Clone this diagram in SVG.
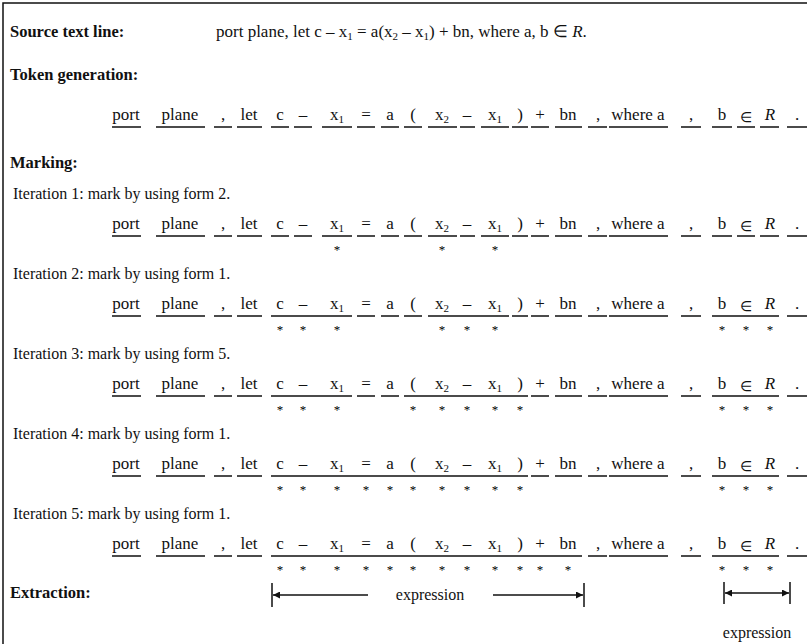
<svg xmlns="http://www.w3.org/2000/svg" width="807" height="644" viewBox="0 0 807 644">
<style>
text{font-family:"Liberation Serif","Times New Roman",serif;font-size:16px;fill:#111}
.h{font-weight:bold;font-size:16.5px}
.src{font-size:17px}
.row text{text-anchor:middle;font-size:17px}
.row text.el{font-size:14px}
.sb{font-size:11px}
.it{font-style:italic}
.row .st text{font-size:13px;fill:#000}
.ul{stroke:#111;stroke-width:1.6;fill:none}
.ln{stroke:#111;stroke-width:1.5;fill:none}
</style>
<defs>
<marker id="ah" viewBox="0 0 10 10" refX="10" refY="5" markerUnits="userSpaceOnUse" markerWidth="10" markerHeight="7" orient="auto-start-reverse"><path d="M0,0L10,5L0,10z" fill="#111"/></marker>
</defs>
<rect width="807" height="644" fill="#fff"/>
<path id="frame" d="M3 644V3H807" class="ln" stroke-width="1.6"/>

<g id="headers">
<text x="10" y="37" class="h">Source text line:</text>
<text x="216" y="37" class="src">port plane, let c – x<tspan class="sb" dy="3">1</tspan><tspan dy="-3"> = a(x</tspan><tspan class="sb" dy="3">2</tspan><tspan dy="-3"> – x</tspan><tspan class="sb" dy="3">1</tspan><tspan dy="-3">) + bn, where a, b ∈ </tspan><tspan class="it">R</tspan>.</text>
<text x="10" y="80" class="h">Token generation:</text>
<text x="10" y="168" class="h">Marking:</text>
<text x="13" y="199">Iteration 1: mark by using form 2.</text>
<text x="13" y="279">Iteration 2: mark by using form 1.</text>
<text x="13" y="359">Iteration 3: mark by using form 5.</text>
<text x="13" y="439">Iteration 4: mark by using form 1.</text>
<text x="13" y="519">Iteration 5: mark by using form 1.</text>
<text x="10" y="598" class="h">Extraction:</text>
</g>

<g id="row-tokens" class="row">
<text x="126" y="120">port</text><text x="180" y="120">plane</text><text x="223" y="120">,</text><text x="249" y="120">let</text><text x="280" y="120">c</text><text x="303" y="120">–</text><text x="337" y="120">x<tspan class="sb" dy="3">1</tspan></text><text x="366" y="120">=</text><text x="390" y="120">a</text><text x="413" y="120">(</text><text x="442" y="120">x<tspan class="sb" dy="3">2</tspan></text><text x="467" y="120">–</text><text x="495" y="120">x<tspan class="sb" dy="3">1</tspan></text><text x="520" y="120">)</text><text x="540" y="120">+</text><text x="568" y="120">bn</text><text x="598" y="120">,</text><text x="638" y="120">where a</text><text x="691" y="120">,</text><text x="722" y="120">b</text><text x="746" y="122" class="el">∈</text><text x="770" y="120" class="it">R</text><text x="797" y="120">.</text>
<path class="ul" d="M112 127H141M156 127H205M214 127H232M237 127H262M271 127H289M294 127H312M322 127H352M357 127H375M381 127H399M404 127H422M428 127H457M460 127H475M481 127H509M512 127H528M531 127H549M555 127H582M588 127H607M609 127H668M681 127H701M712 127H732M737 127H755M760 127H779M787 127H807"/>
</g>

<g id="row-iter1" class="row">
<text x="126" y="229">port</text><text x="180" y="229">plane</text><text x="223" y="229">,</text><text x="249" y="229">let</text><text x="280" y="229">c</text><text x="303" y="229">–</text><text x="337" y="229">x<tspan class="sb" dy="3">1</tspan></text><text x="366" y="229">=</text><text x="390" y="229">a</text><text x="413" y="229">(</text><text x="442" y="229">x<tspan class="sb" dy="3">2</tspan></text><text x="467" y="229">–</text><text x="495" y="229">x<tspan class="sb" dy="3">1</tspan></text><text x="520" y="229">)</text><text x="540" y="229">+</text><text x="568" y="229">bn</text><text x="598" y="229">,</text><text x="638" y="229">where a</text><text x="691" y="229">,</text><text x="722" y="229">b</text><text x="746" y="231" class="el">∈</text><text x="770" y="229" class="it">R</text><text x="797" y="229">.</text>
<path class="ul" d="M112 236H141M156 236H205M214 236H232M237 236H262M271 236H289M294 236H312M322 236H352M357 236H375M381 236H399M404 236H422M428 236H457M460 236H475M481 236H509M512 236H528M531 236H549M555 236H582M588 236H607M609 236H668M681 236H701M712 236H732M737 236H755M760 236H779M787 236H807"/>
<g class="st"><text x="337" y="254">*</text><text x="442" y="254">*</text><text x="495" y="254">*</text></g>
</g>

<g id="row-iter2" class="row">
<text x="126" y="309">port</text><text x="180" y="309">plane</text><text x="223" y="309">,</text><text x="249" y="309">let</text><text x="280" y="309">c</text><text x="303" y="309">–</text><text x="337" y="309">x<tspan class="sb" dy="3">1</tspan></text><text x="366" y="309">=</text><text x="390" y="309">a</text><text x="413" y="309">(</text><text x="442" y="309">x<tspan class="sb" dy="3">2</tspan></text><text x="467" y="309">–</text><text x="495" y="309">x<tspan class="sb" dy="3">1</tspan></text><text x="520" y="309">)</text><text x="540" y="309">+</text><text x="568" y="309">bn</text><text x="598" y="309">,</text><text x="638" y="309">where a</text><text x="691" y="309">,</text><text x="722" y="309">b</text><text x="746" y="311" class="el">∈</text><text x="770" y="309" class="it">R</text><text x="797" y="309">.</text>
<path class="ul" d="M112 316H141M156 316H205M214 316H232M237 316H262M271 316H352M357 316H375M381 316H399M404 316H422M428 316H509M512 316H528M531 316H549M555 316H582M588 316H607M609 316H668M681 316H701M712 316H779M787 316H807"/>
<g class="st"><text x="280" y="334">*</text><text x="303" y="334">*</text><text x="337" y="334">*</text><text x="442" y="334">*</text><text x="467" y="334">*</text><text x="495" y="334">*</text><text x="722" y="334">*</text><text x="746" y="334">*</text><text x="770" y="334">*</text></g>
</g>

<g id="row-iter3" class="row">
<text x="126" y="389">port</text><text x="180" y="389">plane</text><text x="223" y="389">,</text><text x="249" y="389">let</text><text x="280" y="389">c</text><text x="303" y="389">–</text><text x="337" y="389">x<tspan class="sb" dy="3">1</tspan></text><text x="366" y="389">=</text><text x="390" y="389">a</text><text x="413" y="389">(</text><text x="442" y="389">x<tspan class="sb" dy="3">2</tspan></text><text x="467" y="389">–</text><text x="495" y="389">x<tspan class="sb" dy="3">1</tspan></text><text x="520" y="389">)</text><text x="540" y="389">+</text><text x="568" y="389">bn</text><text x="598" y="389">,</text><text x="638" y="389">where a</text><text x="691" y="389">,</text><text x="722" y="389">b</text><text x="746" y="391" class="el">∈</text><text x="770" y="389" class="it">R</text><text x="797" y="389">.</text>
<path class="ul" d="M112 396H141M156 396H205M214 396H232M237 396H262M271 396H352M357 396H375M381 396H399M404 396H528M531 396H549M555 396H582M588 396H607M609 396H668M681 396H701M712 396H779M787 396H807"/>
<g class="st"><text x="280" y="414">*</text><text x="303" y="414">*</text><text x="337" y="414">*</text><text x="413" y="414">*</text><text x="442" y="414">*</text><text x="467" y="414">*</text><text x="495" y="414">*</text><text x="520" y="414">*</text><text x="722" y="414">*</text><text x="746" y="414">*</text><text x="770" y="414">*</text></g>
</g>

<g id="row-iter4" class="row">
<text x="126" y="469">port</text><text x="180" y="469">plane</text><text x="223" y="469">,</text><text x="249" y="469">let</text><text x="280" y="469">c</text><text x="303" y="469">–</text><text x="337" y="469">x<tspan class="sb" dy="3">1</tspan></text><text x="366" y="469">=</text><text x="390" y="469">a</text><text x="413" y="469">(</text><text x="442" y="469">x<tspan class="sb" dy="3">2</tspan></text><text x="467" y="469">–</text><text x="495" y="469">x<tspan class="sb" dy="3">1</tspan></text><text x="520" y="469">)</text><text x="540" y="469">+</text><text x="568" y="469">bn</text><text x="598" y="469">,</text><text x="638" y="469">where a</text><text x="691" y="469">,</text><text x="722" y="469">b</text><text x="746" y="471" class="el">∈</text><text x="770" y="469" class="it">R</text><text x="797" y="469">.</text>
<path class="ul" d="M112 476H141M156 476H205M214 476H232M237 476H262M271 476H528M531 476H549M555 476H582M588 476H607M609 476H668M681 476H701M712 476H779M787 476H807"/>
<g class="st"><text x="280" y="494">*</text><text x="303" y="494">*</text><text x="337" y="494">*</text><text x="366" y="494">*</text><text x="390" y="494">*</text><text x="413" y="494">*</text><text x="442" y="494">*</text><text x="467" y="494">*</text><text x="495" y="494">*</text><text x="520" y="494">*</text><text x="722" y="494">*</text><text x="746" y="494">*</text><text x="770" y="494">*</text></g>
</g>

<g id="row-iter5" class="row">
<text x="126" y="549">port</text><text x="180" y="549">plane</text><text x="223" y="549">,</text><text x="249" y="549">let</text><text x="280" y="549">c</text><text x="303" y="549">–</text><text x="337" y="549">x<tspan class="sb" dy="3">1</tspan></text><text x="366" y="549">=</text><text x="390" y="549">a</text><text x="413" y="549">(</text><text x="442" y="549">x<tspan class="sb" dy="3">2</tspan></text><text x="467" y="549">–</text><text x="495" y="549">x<tspan class="sb" dy="3">1</tspan></text><text x="520" y="549">)</text><text x="540" y="549">+</text><text x="568" y="549">bn</text><text x="598" y="549">,</text><text x="638" y="549">where a</text><text x="691" y="549">,</text><text x="722" y="549">b</text><text x="746" y="551" class="el">∈</text><text x="770" y="549" class="it">R</text><text x="797" y="549">.</text>
<path class="ul" d="M112 556H141M156 556H205M214 556H232M237 556H262M271 556H582M588 556H607M609 556H668M681 556H701M712 556H779M787 556H807"/>
<g class="st"><text x="280" y="574">*</text><text x="303" y="574">*</text><text x="337" y="574">*</text><text x="366" y="574">*</text><text x="390" y="574">*</text><text x="413" y="574">*</text><text x="442" y="574">*</text><text x="467" y="574">*</text><text x="495" y="574">*</text><text x="520" y="574">*</text><text x="540" y="574">*</text><text x="568" y="574">*</text><text x="722" y="574">*</text><text x="746" y="574">*</text><text x="770" y="574">*</text></g>
</g>

<g id="connectors">
<path class="ln" d="M272 583V607M584 583V607M724 582V604M790 582V604"/>
<path class="ln" d="M368 595H273" marker-end="url(#ah)"/>
<path class="ln" d="M493 595H583" marker-end="url(#ah)"/>
<path class="ln" d="M725 593H789" marker-start="url(#ah)" marker-end="url(#ah)"/>
</g>
<g id="labels">
<text x="430" y="600" text-anchor="middle">expression</text>
<text x="757" y="638" text-anchor="middle">expression</text>
</g>
</svg>
